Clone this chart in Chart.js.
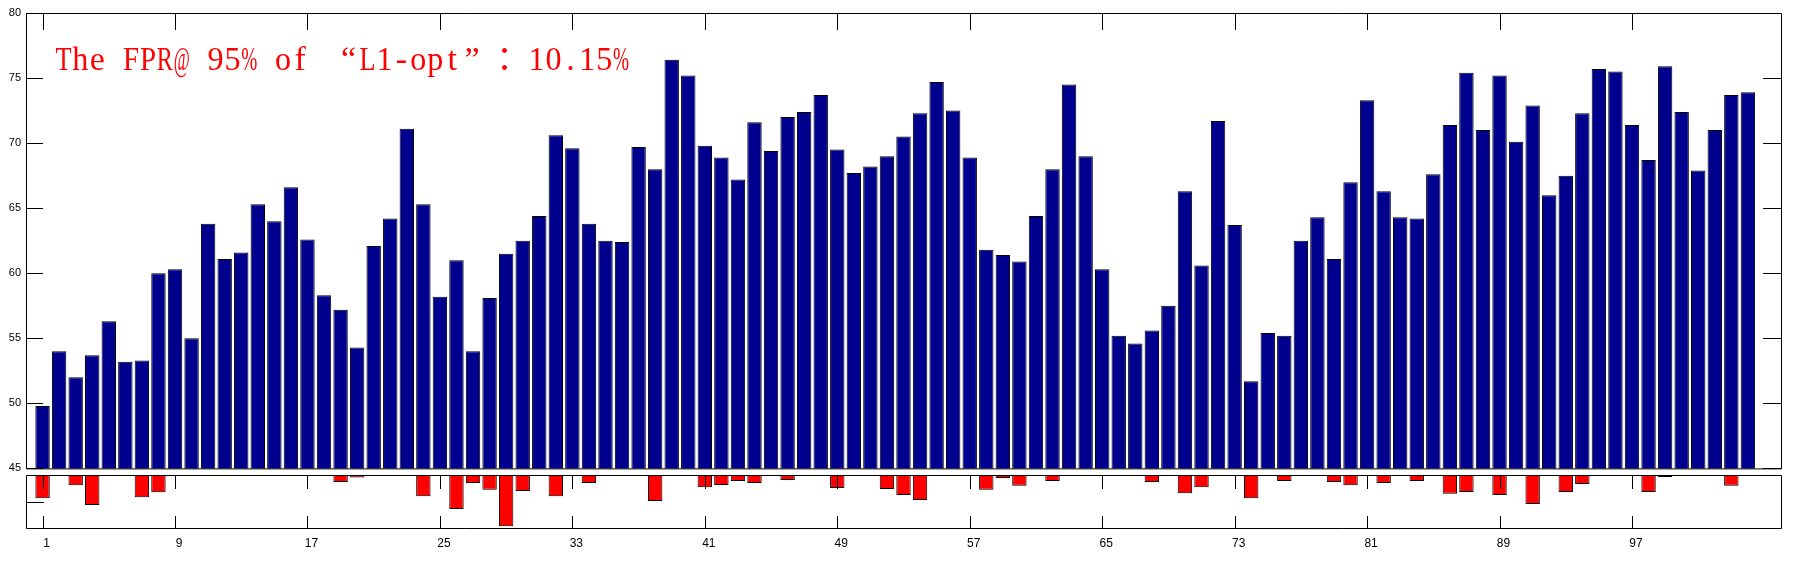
<!DOCTYPE html>
<html>
<head>
  <meta charset="UTF-8" />
  <title>FPR@95% of L1-opt</title>
  <script src="https://cdn.jsdelivr.net/npm/chart.js"></script>
  <style>
    html, body {
      margin: 0;
      padding: 0;
      background: #fff;
    }

    #wrap {
      position: relative;
      width: 1793px;
      height: 571px;
    }

    #topChart {
      position: absolute;
      left: 0;
      top: 0;
    }

    #bottomChart {
      position: absolute;
      left: 0;
      top: 470px;
    }
  </style>
</head>
<body>
  <div id="wrap">
    <canvas id="topChart" width="1793" height="480"></canvas>
    <canvas id="bottomChart" width="1793" height="101"></canvas>
  </div>

  <script>
    // FPR values per trial (blue bars, top panel)
    const fprValues = [
      49.8, 54.0, 52.0, 53.7, 56.3, 53.2, 53.3, 60.0, 60.3, 55.0,
      63.8, 61.1, 61.6, 65.3, 64.0, 66.6, 62.6, 58.3, 57.2, 54.3,
      62.1, 64.2, 71.1, 65.3, 58.2, 61.0, 54.0, 58.1, 61.5, 62.5,
      64.4, 70.6, 69.6, 63.8, 62.5, 62.4, 69.7, 68.0, 76.4, 75.2,
      69.8, 68.9, 67.2, 71.6, 69.4, 72.0, 72.4, 73.7, 69.5, 67.7,
      68.2, 69.0, 70.5, 72.3, 74.7, 72.5, 68.9, 61.8, 61.4, 60.9,
      64.4, 68.0, 74.5, 69.0, 60.3, 55.2, 54.6, 55.6, 57.5, 66.3,
      60.6, 71.7, 63.7, 51.7, 55.4, 55.2, 62.5, 64.3, 61.1, 67.0,
      73.3, 66.3, 64.3, 64.2, 67.6, 71.4, 75.4, 71.0, 75.2, 70.1,
      72.9, 66.0, 67.5, 72.3, 75.7, 75.5, 71.4, 68.7, 75.9, 72.4,
      67.9, 71.0, 73.7, 73.9
    ];

    // differences (red bars, bottom panel); null where there is no bar
    const diffValues = [
      -0.88, null, -0.39, -1.13, null, null, -0.84, -0.65, null, null,
      null, null, null, null, null, null, null, null, -0.26, -0.09,
      null, null, null, -0.80, null, -1.28, -0.30, -0.56, -1.93, -0.60,
      null, -0.80, null, -0.30, null, null, null, -0.98, null, null,
      -0.46, -0.38, -0.23, -0.30, null, -0.19, null, null, -0.49, null,
      null, -0.53, -0.75, -0.94, null, null, null, -0.56, -0.11, -0.41,
      null, -0.23, null, null, null, null, null, -0.26, null, -0.69,
      -0.46, null, null, -0.88, null, -0.23, null, null, -0.26, -0.39,
      null, -0.30, null, -0.23, null, -0.71, -0.64, null, -0.75, null,
      -1.09, null, -0.64, -0.34, null, null, null, -0.64, -0.08, -0.03,
      null, null, -0.41, null
    ];

    const xTickLabels = [1, 9, 17, 25, 33, 41, 49, 57, 65, 73, 81, 89, 97];
    const yTickLabels = [45, 50, 55, 60, 65, 70, 75, 80];
    const diffTicks = [-1];
    const noteText = 'The FPR@ 95% of “L1-opt”：10.15%';

    // matlab style box with inward tick marks
    const axesBox = {
      id: 'axesBox',
      afterDatasetsDraw(chart, args, opts) {
        const ctx = chart.ctx;
        const a = chart.chartArea;
        const x = chart.scales.x;
        const y = chart.scales.y;
        ctx.save();
        ctx.strokeStyle = '#000';
        ctx.lineWidth = 1;
        ctx.beginPath();
        ctx.rect(a.left + 0.5, a.top + 0.5, a.right - a.left, a.bottom - a.top);
        xTickLabels.forEach(v => {
          const px = Math.round(x.getPixelForValue(v)) + 0.5;
          if (opts.xTop) {
            ctx.moveTo(px, a.top);
            ctx.lineTo(px, a.top + opts.xTop);
          }
          if (opts.xBottom) {
            ctx.moveTo(px, a.bottom);
            ctx.lineTo(px, a.bottom - opts.xBottom);
          }
        });
        (opts.yTicks || []).forEach(v => {
          const py = Math.round(y.getPixelForValue(v)) + 0.5;
          if (opts.yLeft) {
            ctx.moveTo(a.left, py);
            ctx.lineTo(a.left + opts.yLeft, py);
          }
          if (opts.yRight) {
            ctx.moveTo(a.right, py);
            ctx.lineTo(a.right - opts.yRight, py);
          }
        });
        ctx.stroke();
        ctx.restore();
      }
    };

    // red annotation text, drawn in fixed cells like a CJK font would
    const noteLabel = {
      id: 'noteLabel',
      afterDraw(chart) {
        const ctx = chart.ctx;
        const a = chart.chartArea;
        const pitch = 16.9;
        let cx = a.left + 29;
        const base = a.top + 57;
        ctx.save();
        ctx.fillStyle = '#ff0000';
        ctx.font = '34px "Liberation Serif", "Noto Sans CJK SC", serif';
        for (const ch of noteText) {
          const full = '“”：'.includes(ch);
          const cell = full ? pitch * 2 : pitch;
          const w = ctx.measureText(ch).width || 1;
          const s = Math.min(1, (cell * 0.95) / w);
          let gx = cx + (cell - w * s) / 2;
          if (ch === '“') gx = cx + cell - w * s - 3;
          if (ch === '”') gx = cx + 4;
          if (ch === '：') gx = cx + 2;
          ctx.save();
          ctx.translate(gx, base);
          ctx.scale(s, 1);
          ctx.fillText(ch, 0, 0);
          ctx.restore();
          cx += cell;
        }
        ctx.restore();
      }
    };

    new Chart(document.getElementById('topChart'), {
      type: 'bar',
      data: {
        datasets: [{
          data: fprValues.map((v, i) => ({ x: i + 1, y: v })),
          backgroundColor: '#00008f',
          borderColor: '#000',
          borderWidth: 1,
          barPercentage: 0.87,
          categoryPercentage: 1
        }]
      },
      options: {
        responsive: false,
        animation: false,
        devicePixelRatio: 1,
        layout: { padding: { left: 0, top: 13, right: 12, bottom: 7 } },
        plugins: {
          legend: { display: false },
          tooltip: { enabled: false },
          axesBox: { xTop: 17, yTicks: yTickLabels, yLeft: 17, yRight: 18 }
        },
        scales: {
          x: {
            type: 'linear',
            min: 0,
            max: 106,
            offset: false,
            display: false,
            afterBuildTicks: s => { s.ticks = xTickLabels.map(v => ({ value: v })); }
          },
          y: {
            min: 45,
            max: 80,
            afterBuildTicks: s => { s.ticks = yTickLabels.map(v => ({ value: v })); },
            afterFit: s => { s.width = 26; },
            grid: { display: false, drawTicks: false },
            border: { display: false },
            ticks: { padding: 5, color: '#000', font: { family: 'Liberation Sans', size: 11 } }
          }
        }
      },
      plugins: [axesBox, noteLabel]
    });

    new Chart(document.getElementById('bottomChart'), {
      type: 'bar',
      data: {
        datasets: [{
          data: diffValues.map((v, i) => ({ x: i + 1, y: v })),
          backgroundColor: '#ff0000',
          borderColor: '#000',
          borderWidth: 1,
          barPercentage: 0.87,
          categoryPercentage: 1
        }]
      },
      options: {
        responsive: false,
        animation: false,
        devicePixelRatio: 1,
        layout: { padding: { left: 0, top: 5, right: 12, bottom: 13 } },
        plugins: {
          legend: { display: false },
          tooltip: { enabled: false },
          axesBox: { xTop: 14, xBottom: 12, yTicks: diffTicks, yLeft: 18 }
        },
        scales: {
          x: {
            type: 'linear',
            min: 0,
            max: 106,
            offset: false,
            afterBuildTicks: s => { s.ticks = xTickLabels.map(v => ({ value: v })); },
            afterFit: s => { s.height = 30; },
            grid: { display: false, drawTicks: false },
            border: { display: false },
            ticks: {
              padding: 8,
              labelOffset: 4,
              autoSkip: false,
              maxRotation: 0,
              color: '#000',
              font: { family: 'Liberation Sans', size: 12 }
            }
          },
          y: {
            min: -2,
            max: 0,
            afterFit: s => { s.width = 26; },
            ticks: { display: false },
            grid: { display: false, drawTicks: false },
            border: { display: false }
          }
        }
      },
      plugins: [axesBox]
    });
  </script>
</body>
</html>
